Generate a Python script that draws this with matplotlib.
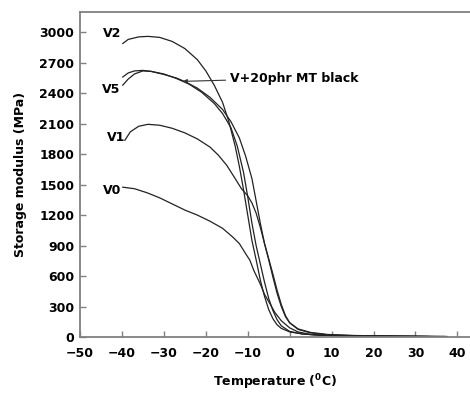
import matplotlib
matplotlib.use("Agg")
import matplotlib.pyplot as plt

# storage modulus (MPa) vs temperature (C)
v2_t = [-39.8, -38.5, -36, -33.8, -31, -28, -25, -22, -20, -18, -16, -14.5, -13, -12, -11,
        -10, -9, -8, -7, -6, -5, -4, -3, -2, 0, 3, 7, 12, 20, 30, 37.5]
v2_e = [2890, 2930, 2955, 2960, 2950, 2910, 2840, 2730, 2620, 2480, 2310, 2120, 1880, 1680, 1450,
        1200, 950, 760, 560, 400, 270, 180, 120, 85, 50, 30, 18, 12, 8, 5, 3]

v5_t = [-39.8, -38.5, -37, -35, -33, -30, -27, -24, -21, -18, -16, -14, -12.5, -11, -10,
        -9, -8, -7, -6, -5, -4, -3, -2, 0, 3, 7, 12, 20, 30, 37]
v5_e = [2480, 2540, 2590, 2620, 2615, 2590, 2545, 2490, 2410, 2300, 2200, 2060, 1880, 1620, 1380,
        1120, 900, 720, 540, 380, 260, 170, 110, 55, 30, 18, 12, 8, 5, 3]

mt_t = [-39.8, -38.5, -37, -35, -33, -30, -27, -25, -22, -19, -16, -14, -12, -10.5, -9,
        -8, -7, -6, -5, -4, -3, -2, -1, 0, 2, 5, 9, 15, 25, 37.5]
mt_e = [2560, 2600, 2620, 2625, 2615, 2585, 2550, 2515, 2450, 2360, 2240, 2120, 1960, 1780, 1560,
        1340, 1120, 920, 760, 590, 430, 300, 200, 140, 80, 45, 25, 15, 9, 5]

v1_t = [-39.3, -38, -36, -33.8, -31, -28, -25, -22, -19, -17, -15, -13, -11.5, -10, -9,
        -8, -7, -6, -5, -4, -3, -2, -1, 0, 2, 5, 9, 15, 25, 33]
v1_e = [1937, 2020, 2075, 2094, 2085, 2055, 2010, 1950, 1870, 1790, 1690, 1560, 1460, 1390, 1320,
        1220, 1080, 920, 770, 620, 460, 320, 210, 140, 75, 40, 22, 14, 8, 5]

v0_t = [-39.8, -37, -34, -31, -28, -25, -22, -19, -16, -13.6, -12, -10.5, -9.5, -8.5, -7.1,
        -6, -4.8, -3.5, -2, 0, 2, 5, 10, 20, 30, 37]
v0_e = [1475, 1460, 1420, 1370, 1310, 1250, 1200, 1140, 1070, 985, 920, 820, 757, 650, 530,
        420, 334, 240, 160, 90, 50, 25, 15, 10, 7, 5]

xticks = list(range(-50, 41, 10))
yticks = list(range(0, 3001, 300))

plt.rcParams["font.family"] = "DejaVu Sans"
plt.rcParams["font.weight"] = "bold"

fig = plt.figure(figsize=(4.7, 3.94), dpi=100)
ax = fig.add_axes([80 / 470, 57 / 394, 390 / 470, 325 / 394])

for t, e in [(v2_t, v2_e), (v5_t, v5_e), (mt_t, mt_e), (v1_t, v1_e), (v0_t, v0_e)]:
    ax.plot(t, e, color="#222222", lw=0.9)

ax.set_xlim(-50, 43)
ax.set_ylim(0, 3200)
ax.set_xticks(xticks)
ax.set_yticks(yticks)
ax.tick_params(direction="in", length=4, width=1, color="#808080", labelsize=9)
ax.tick_params(axis="x", pad=7)
ax.tick_params(axis="y", pad=4)
for s in ["left", "bottom", "top"]:
    ax.spines[s].set_color("#808080")
    ax.spines[s].set_linewidth(1.3)
ax.spines["right"].set_visible(False)

ax.set_xlabel(r"Temperature ($^\mathregular{0}$C)", fontsize=9, fontweight="bold", labelpad=9)
ax.set_ylabel("Storage modulus (MPa)", fontsize=9, fontweight="bold", labelpad=9)

lab = dict(fontsize=9, fontweight="bold", ha="center", va="center")
ax.text(-42.4, 2990, "V2", **lab)
ax.text(-42.5, 2438, "V5", **lab)
ax.text(-41.4, 1967, "V1", **lab)
ax.text(-42.4, 1445, "V0", **lab)
ax.annotate("V+20phr MT black", xy=(-25.5, 2517), xytext=(-14.3, 2547),
            fontsize=9, fontweight="bold", va="center", ha="left",
            arrowprops=dict(arrowstyle="-|>", color="#333333", lw=0.8,
                            mutation_scale=6, shrinkA=1, shrinkB=0))

fig.savefig("out.png", dpi=100)
